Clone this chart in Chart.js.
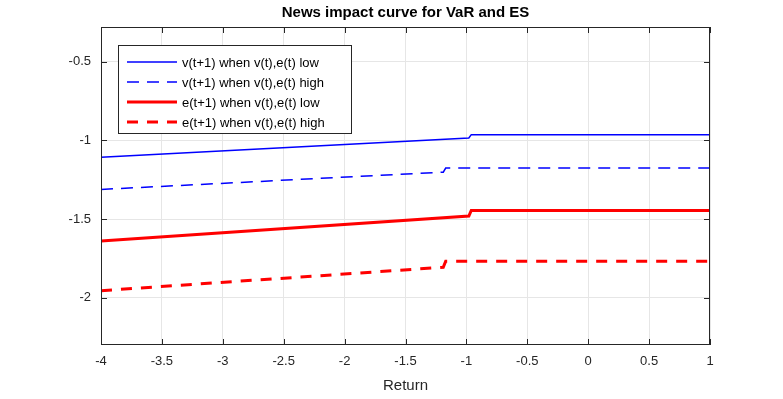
<!DOCTYPE html>
<html>
<head>
<meta charset="utf-8">
<script src="https://cdn.jsdelivr.net/npm/chart.js@4"></script>
<style>
  html, body { margin: 0; padding: 0; background: #fff; }
  #wrap { width: 783px; height: 399px; }
</style>
</head>
<body>
<div id="wrap"><canvas id="nic"></canvas></div>
<script>
  // series (x = return, y = value)
  const vLowX  = [-4, -0.98, -0.96, 1];
  const vLowY  = [-1.108, -0.985, -0.964, -0.964];
  const vHighX = [-4, -1.19, -1.17, 1];
  const vHighY = [-1.312, -1.202, -1.176, -1.176];
  const eLowX  = [-4, -0.98, -0.96, 1];
  const eLowY  = [-1.640, -1.481, -1.445, -1.445];
  const eHighX = [-4, -1.19, -1.17, 1];
  const eHighY = [-1.955, -1.806, -1.768, -1.768];

  const xTicks = [-4, -3.5, -3, -2.5, -2, -1.5, -1, -0.5, 0, 0.5, 1];
  const yTicks = [-2, -1.5, -1, -0.5];

  const seriesNames = [
    'v(t+1) when v(t),e(t) low',
    'v(t+1) when v(t),e(t) high',
    'e(t+1) when v(t),e(t) low',
    'e(t+1) when v(t),e(t) high'
  ];

  const pts = (xs, ys) => xs.map((x, i) => ({ x: x, y: ys[i] }));
  const FONT = '"Liberation Sans", Arial, sans-serif';

  // MATLAB style box, inward ticks, title and legend
  const matlabBox = {
    id: 'matlabBox',
    afterDraw(chart) {
      const ctx = chart.ctx;
      const a = chart.chartArea;
      const xs = chart.scales.x, ys = chart.scales.y;
      ctx.save();
      ctx.strokeStyle = '#262626';
      ctx.lineWidth = 1;
      ctx.strokeRect(a.left + 0.5, a.top + 0.5, a.right - a.left - 1, a.bottom - a.top - 1);
      ctx.beginPath();
      xTicks.forEach(v => {
        const px = Math.round(xs.getPixelForValue(v)) + 0.5;
        ctx.moveTo(px, a.bottom); ctx.lineTo(px, a.bottom - 6);
        ctx.moveTo(px, a.top); ctx.lineTo(px, a.top + 6);
      });
      yTicks.forEach(v => {
        const py = Math.round(ys.getPixelForValue(v)) + 0.5;
        ctx.moveTo(a.left, py); ctx.lineTo(a.left + 6, py);
        ctx.moveTo(a.right, py); ctx.lineTo(a.right - 6, py);
      });
      ctx.stroke();

      // title
      ctx.fillStyle = '#000';
      ctx.font = 'bold 15px ' + FONT;
      ctx.textAlign = 'center';
      ctx.textBaseline = 'middle';
      ctx.fillText('News impact curve for VaR and ES', (a.left + a.right) / 2, 13);

      // legend
      const lx = 118, ly = 45, lw = 233, lh = 88;
      ctx.fillStyle = '#fff';
      ctx.fillRect(lx, ly, lw, lh);
      ctx.strokeStyle = '#262626';
      ctx.strokeRect(lx + 0.5, ly + 0.5, lw, lh);
      ctx.font = '13px ' + FONT;
      ctx.textAlign = 'left';
      chart.data.datasets.forEach((ds, i) => {
        const y = 62 + i * 20;
        ctx.strokeStyle = ds.borderColor;
        ctx.lineWidth = ds.borderWidth;
        ctx.setLineDash(ds.borderDash || []);
        ctx.beginPath();
        ctx.moveTo(127, y); ctx.lineTo(177, y);
        ctx.stroke();
        ctx.setLineDash([]);
        ctx.fillStyle = '#000';
        ctx.fillText(ds.label, 182, y + 1);
      });
      ctx.restore();
    }
  };

  new Chart(document.getElementById('nic'), {
    type: 'line',
    data: {
      datasets: [
        { label: seriesNames[0], data: pts(vLowX, vLowY), borderColor: '#0000ff', borderWidth: 1.5 },
        { label: seriesNames[1], data: pts(vHighX, vHighY), borderColor: '#0000ff', borderWidth: 1.5, borderDash: [12, 8] },
        { label: seriesNames[2], data: pts(eLowX, eLowY), borderColor: '#ff0000', borderWidth: 3 },
        { label: seriesNames[3], data: pts(eHighX, eHighY), borderColor: '#ff0000', borderWidth: 3, borderDash: [11, 9] }
      ]
    },
    options: {
      responsive: true,
      maintainAspectRatio: false,
      animation: false,
      events: [],
      elements: { point: { radius: 0 }, line: { tension: 0 } },
      layout: { padding: { left: 0, right: 73, top: 27, bottom: 0 } },
      plugins: { legend: { display: false }, title: { display: false }, tooltip: { enabled: false } },
      scales: {
        x: {
          type: 'linear',
          min: -4, max: 1,
          afterBuildTicks: s => { s.ticks = xTicks.map(v => ({ value: v })); },
          afterFit: s => { s.height = 54; },
          grid: { color: '#e6e6e6', drawTicks: false },
          border: { display: false },
          ticks: { color: '#262626', font: { family: FONT, size: 13 }, padding: 9, maxRotation: 0, callback: v => String(v) },
          title: { display: true, text: 'Return', color: '#262626', font: { family: FONT, size: 15 }, padding: { top: 4, bottom: 4 } }
        },
        y: {
          type: 'linear',
          min: -2.3, max: -0.28,
          afterBuildTicks: s => { s.ticks = yTicks.map(v => ({ value: v })); },
          afterFit: s => { s.width = 101; },
          grid: { color: '#e6e6e6', drawTicks: false },
          border: { display: false },
          ticks: { color: '#262626', font: { family: FONT, size: 13 }, padding: 10, callback: v => String(v) }
        }
      }
    },
    plugins: [matlabBox]
  });
</script>
</body>
</html>
